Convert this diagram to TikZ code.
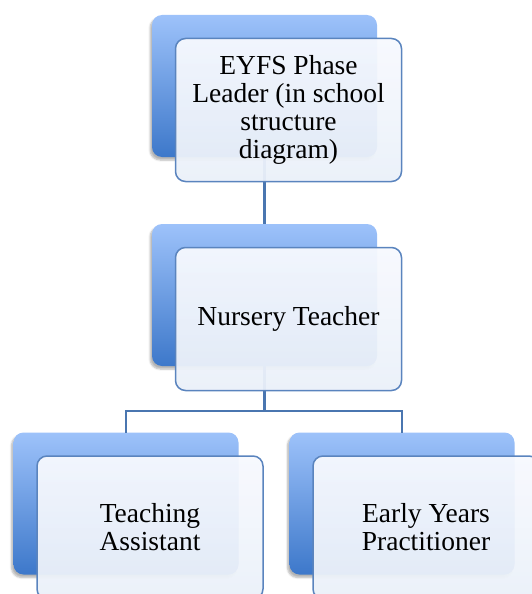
\documentclass[tikz,border=0pt]{standalone}
\usepackage{fontspec}
\setmainfont{Liberation Serif}
\usetikzlibrary{positioning,shadows.blur}
\definecolor{tilelight}{HTML}{9DC2FA}
\definecolor{tiledark}{HTML}{3D78CA}
\definecolor{cardtop}{HTML}{F7F9FE}
\definecolor{cardbot}{HTML}{EAF0F9}
\definecolor{cardline}{HTML}{5A84BE}
\definecolor{link}{HTML}{4A76B0}

\begin{document}
\begin{tikzpicture}[
  x=1pt, y=-1pt,
  every node/.style={font=\fontsize{27.5}{28}\selectfont, text=black},
  tile/.style={rounded corners=10pt, top color=tilelight, bottom color=tiledark,
               minimum width=225pt, minimum height=142pt, inner sep=0pt, outer sep=0pt,
               blur shadow={shadow xshift=-2pt, shadow yshift=-3pt, shadow opacity=30,
                            shadow blur steps=6}},
  card/.style={rounded corners=10pt, draw=cardline, line width=1.5pt,
               top color=cardtop, bottom color=cardbot, fill opacity=0.95, text opacity=1,
               minimum width=226pt, minimum height=143pt, inner sep=4pt, outer sep=0pt,
               align=center},
  link/.style={draw=link, line width=2.2pt}
]
  \useasboundingbox (0,0) rectangle (532,594);

  \node[tile] (leadtile)  at (264.5,86)  {};
  \node[tile] (nurstile)  at (264.5,295) {};
  \node[tile] (tatile)    at (126,503.5) {};
  \node[tile] (eyptile)   at (402,503.5) {};

  \draw[link] (leadtile.south) -- (nurstile.north);
  \draw[link] (nurstile.south) -- ++(0,45) coordinate (split);
  \draw[link] (split) -| (tatile.north);
  \draw[link] (split) -| (eyptile.north);

  \node[card, xshift=24pt, yshift=-24pt] (lead) at (leadtile.center)
    {EYFS Phase\\ Leader (in school\\ structure\\ diagram)};
  \node[card, xshift=24pt, yshift=-24pt] (nurs) at (nurstile.center)
    {Nursery Teacher};
  \node[card, xshift=24pt, yshift=-24pt] (ta) at (tatile.center)
    {Teaching\\ Assistant};
  \node[card, xshift=24pt, yshift=-24pt] (eyp) at (eyptile.center)
    {Early Years\\ Practitioner};
\end{tikzpicture}
\end{document}
